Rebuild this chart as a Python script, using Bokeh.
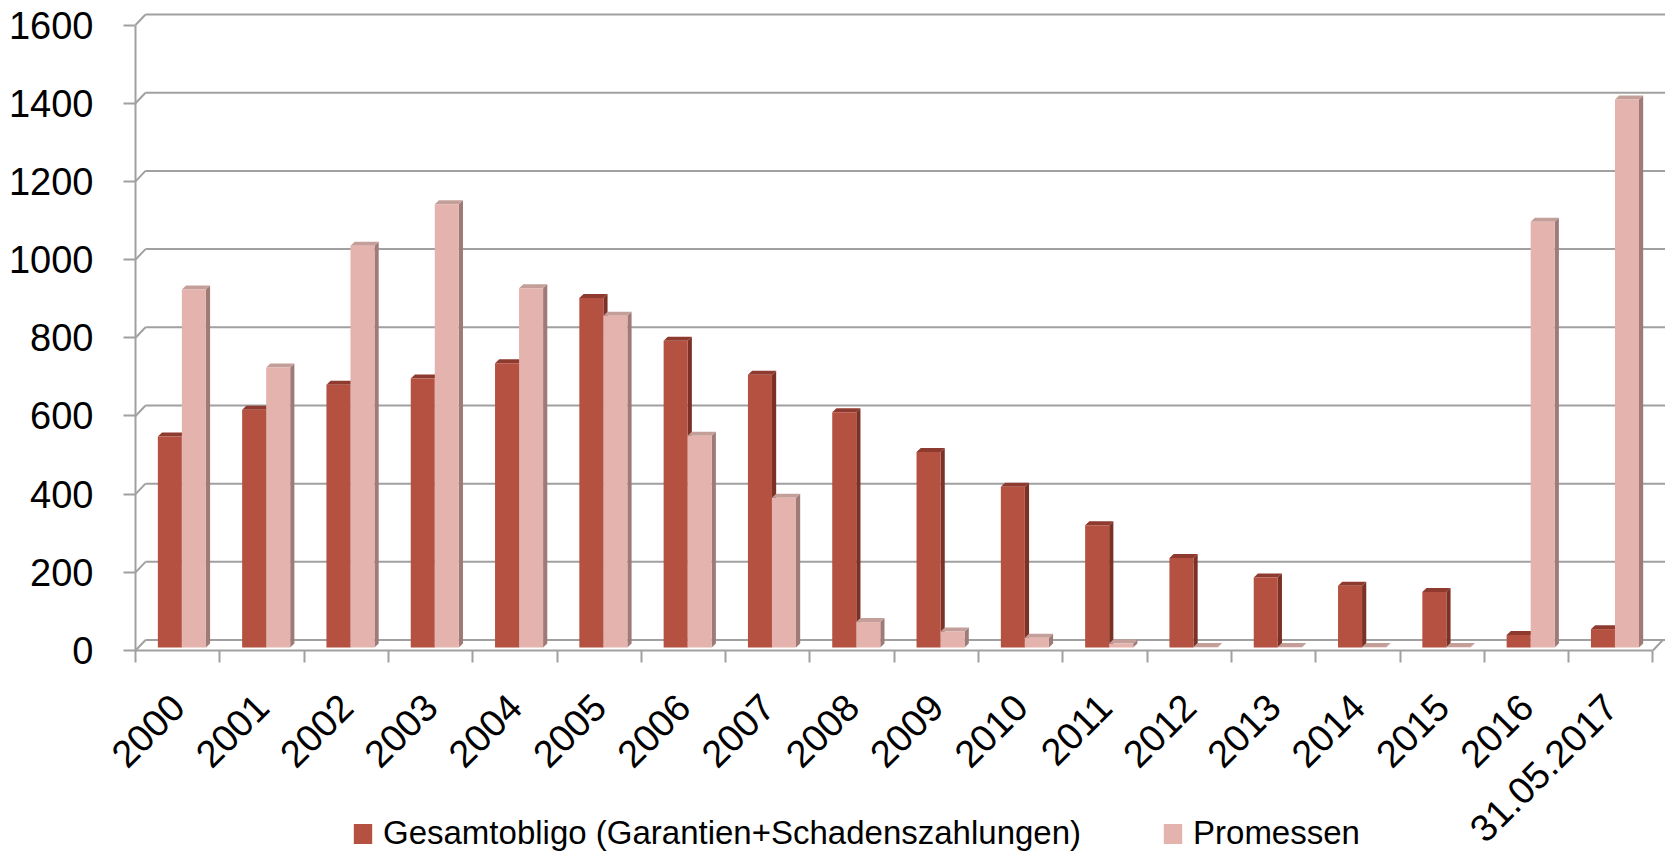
import math
from bokeh.plotting import figure
from bokeh.models import Range1d, FixedTicker, Legend, LegendItem
from bokeh.embed import file_html
from bokeh.resources import INLINE

# ---------------- data ----------------
categories = ["2000", "2001", "2002", "2003", "2004", "2005", "2006", "2007", "2008",
              "2009", "2010", "2011", "2012", "2013", "2014", "2015", "2016", "31.05.2017"]
gesamtobligo = [540, 608, 672, 688, 727, 894, 785, 698, 602, 500, 411, 313, 229, 179, 158, 142, 32, 47]
promessen = [916, 716, 1028, 1134, 919, 849, 542, 383, 65, 41, 25, 10, 1, 1, 1, 1, 1089, 1402]
y_ticks = [0, 200, 400, 600, 800, 1000, 1200, 1400, 1600]
series_names = ["Gesamtobligo (Garantien+Schadenszahlungen)", "Promessen"]

# ---------------- geometry / style ----------------
FONT = "Liberation Sans"
GRID = "#a0a0a0"
DARK = ("#b55141", "#7c3126", "#8e3a2e")     # front, side, top
LIGHT = ("#e4b3ad", "#9f7b77", "#c49f9a")

CAT_PX = 84.3            # pixels per category
PX_PER_UNIT = 0.3909     # pixels per value unit
FIG_W, FIG_H = 1665, 854
ORIGIN_X = 135           # pixel column of the value axis
ZERO_Y = 650             # pixel row of value 0
X_START = -ORIGIN_X / CAT_PX
X_END = (FIG_W - ORIGIN_X) / CAT_PX
Y_END = ZERO_Y / PX_PER_UNIT
Y_START = -(FIG_H - ZERO_Y) / PX_PER_UNIT


def px_x(px):
    return px / CAT_PX


def px_y(px):
    return px / PX_PER_UNIT


WALL_DX, WALL_DY = px_x(10), px_y(10.5)
BAR_DX, BAR_DY = px_x(4.2), px_y(4)
LIFT = px_y(3)

n = len(categories)

p = figure(frame_width=FIG_W, frame_height=FIG_H,
           x_range=Range1d(X_START, X_END), y_range=Range1d(Y_START, Y_END),
           output_backend="svg", toolbar_location=None,
           min_border=0)
p.outline_line_color = None
p.xgrid.visible = False
p.ygrid.visible = False
p.background_fill_color = "white"

# back wall grid lines + side-wall connectors
p.segment(x0=[WALL_DX] * len(y_ticks), x1=[X_END] * len(y_ticks),
          y0=[t + WALL_DY for t in y_ticks], y1=[t + WALL_DY for t in y_ticks],
          line_color=GRID, line_width=2)
p.segment(x0=[0] * len(y_ticks), x1=[WALL_DX] * len(y_ticks),
          y0=y_ticks, y1=[t + WALL_DY for t in y_ticks],
          line_color=GRID, line_width=2)
# floor right edge
p.segment(x0=[n], x1=[n + WALL_DX], y0=[0], y1=[WALL_DY], line_color=GRID, line_width=2)


def draw_series(vals, off0, off1, cols):
    x0 = [i + off0 for i in range(n)]
    x1 = [i + off1 for i in range(n)]
    b = [LIFT] * n
    t = [v + LIFT for v in vals]
    side_xs = [[a, a + BAR_DX, a + BAR_DX, a] for a in x1]
    side_ys = [[LIFT, LIFT + BAR_DY, tt + BAR_DY, tt] for tt in t]
    top_xs = [[a, c, c + BAR_DX, a + BAR_DX] for a, c in zip(x0, x1)]
    top_ys = [[tt, tt, tt + BAR_DY, tt + BAR_DY] for tt in t]
    p.patches(side_xs, side_ys, fill_color=cols[1], line_color=None)
    p.patches(top_xs, top_ys, fill_color=cols[2], line_color=None)
    r = p.quad(left=x0, right=x1, bottom=b, top=t, fill_color=cols[0], line_color=None)
    return r


r_dark = draw_series(gesamtobligo, 0.265, 0.55, DARK)
r_light = draw_series(promessen, 0.55, 0.835, LIGHT)

# ---------------- axes ----------------
ya = p.yaxis[0]
ya.fixed_location = 0
ya.ticker = FixedTicker(ticks=y_ticks)
ya.bounds = (0, y_ticks[-1])
ya.axis_line_color = GRID
ya.axis_line_width = 2
ya.major_tick_out = 12
ya.major_tick_in = 0
ya.major_tick_line_color = GRID
ya.major_tick_line_width = 2
ya.minor_tick_line_color = None
ya.major_label_text_font = FONT
ya.major_label_text_font_size = "38px"
ya.major_label_text_color = "black"
ya.major_label_standoff = 30

centers = [i + 0.5 for i in range(n)]
xa = p.xaxis[0]
xa.fixed_location = 0
xa.ticker = FixedTicker(ticks=centers, minor_ticks=list(range(n + 1)))
xa.major_label_overrides = {c: lab for c, lab in zip(centers, categories)}
xa.bounds = (0, n)
xa.axis_line_color = GRID
xa.axis_line_width = 2
xa.major_tick_out = 0
xa.major_tick_in = 0
xa.minor_tick_out = 12
xa.minor_tick_in = 0
xa.minor_tick_line_color = GRID
xa.minor_tick_line_width = 2
xa.major_label_orientation = math.pi / 4
xa.major_label_standoff = 38
xa.major_label_text_font = FONT
xa.major_label_text_font_size = "38px"
xa.major_label_text_color = "black"

# ---------------- legend ----------------
legend = Legend(items=[LegendItem(label=series_names[0], renderers=[r_dark]),
                       LegendItem(label=series_names[1], renderers=[r_light])],
                orientation="horizontal", location=(351, 2),
                glyph_width=23, glyph_height=25, label_standoff=9, spacing=80,
                padding=0, margin=0, border_line_color=None, background_fill_alpha=0,
                label_text_font=FONT, label_text_font_size="33px", label_text_color="black")
p.add_layout(legend, "center")

open("out.html", "w").write(file_html(p, INLINE))
